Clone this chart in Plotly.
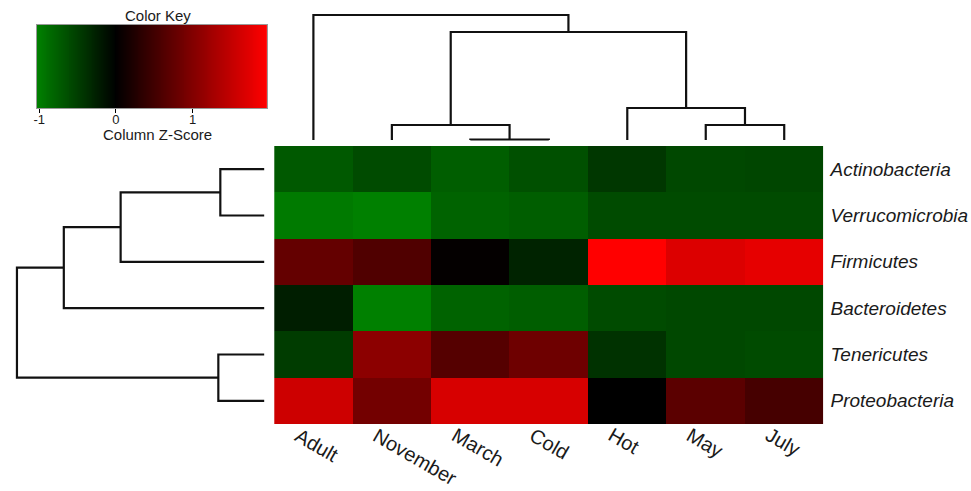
import plotly.graph_objects as go

W, H = 971, 491

# ---------------- data ----------------
samples = ["Adult", "November", "March", "Cold", "Hot", "May", "July"]
phyla = ["Actinobacteria", "Verrucomicrobia", "Firmicutes", "Bacteroidetes",
         "Tenericutes", "Proteobacteria"]

# column z-scores (rows = phyla, cols = samples)
z_actinobacteria = [-0.72, -0.60, -0.76, -0.64, -0.44, -0.58, -0.56]
z_verrucomicrobia = [-0.98, -1.03, -0.80, -0.76, -0.60, -0.60, -0.60]
z_firmicutes = [0.77, 0.62, 0.03, -0.28, 1.97, 1.70, 1.78]
z_bacteroidetes = [-0.24, -1.03, -0.80, -0.76, -0.60, -0.58, -0.58]
z_tenericutes = [-0.48, 1.08, 0.66, 0.85, -0.40, -0.58, -0.60]
z_proteobacteria = [1.58, 0.89, 1.66, 1.66, 0.00, 0.70, 0.54]

# dendrogram merges: (node_a, node_b, height); leaves are 0..n-1, new nodes numbered after
col_merges = [(2, 3, 0.5), (1, 7, 15), (5, 6, 15), (4, 9, 32), (8, 10, 108), (0, 11, 125)]
row_merges = [(0, 1, 44), (6, 2, 144), (7, 3, 201), (4, 5, 46), (8, 9, 248)]

key_ticks = [-1, 0, 1]
zmin, zmax = -1.03, 1.97
key_steps = 240

# ---------------- helpers ----------------
def dendro_lines(n_leaves, merges):
    pos = {i: float(i) for i in range(n_leaves)}
    hgt = {i: 0.0 for i in range(n_leaves)}
    P, Hs = [], []
    nid = n_leaves
    for a, b, h in merges:
        P += [pos[a], pos[a], pos[b], pos[b], None]
        Hs += [hgt[a], h, h, hgt[b], None]
        pos[nid] = (pos[a] + pos[b]) / 2
        hgt[nid] = h
        nid += 1
    return P, Hs

def px(x):
    return x / W

def py(y):
    return 1 - y / H

z = [z_actinobacteria, z_verrucomicrobia, z_firmicutes, z_bacteroidetes,
     z_tenericutes, z_proteobacteria]

b = (0 - zmin) / (zmax - zmin)
cscale = [[0, "rgb(0,128,0)"], [b, "rgb(0,0,0)"], [1, "rgb(255,0,0)"]]

fig = go.Figure()

fig.add_trace(go.Heatmap(
    z=z, x=list(range(len(samples))), y=list(range(len(phyla))),
    zmin=zmin, zmax=zmax, colorscale=cscale, showscale=False,
    hoverinfo="skip",
))

# colour key gradient
key_vals = [zmin + (zmax - zmin) * (k + 0.5) / key_steps for k in range(key_steps)]
fig.add_trace(go.Heatmap(
    z=[key_vals], x=key_vals, y=[0], xaxis="x4", yaxis="y4",
    zmin=zmin, zmax=zmax, colorscale=cscale, showscale=False,
    hoverinfo="skip",
))

# top (column) dendrogram
cx, ch = dendro_lines(len(samples), col_merges)
fig.add_trace(go.Scatter(x=cx, y=ch, mode="lines", xaxis="x2", yaxis="y2",
                         line=dict(color="#111", width=2.2), hoverinfo="skip",
                         showlegend=False))
# left (row) dendrogram
ry, rh = dendro_lines(len(phyla), row_merges)
fig.add_trace(go.Scatter(x=rh, y=ry, mode="lines", xaxis="x3", yaxis="y3",
                         line=dict(color="#111", width=2.2), hoverinfo="skip",
                         showlegend=False))

hm_x = [px(272), px(823)]
hm_y = [py(424), py(146)]

noax = dict(showgrid=False, zeroline=False, showticklabels=False, ticks="",
            showline=False)

fig.update_layout(
    width=W, height=H, margin=dict(l=0, r=0, t=0, b=0),
    paper_bgcolor="white", plot_bgcolor="white",
    font=dict(family="Liberation Sans, Arial", color="#000"),
    xaxis=dict(domain=hm_x, range=[-0.5, 6.5], anchor="y", **noax),
    yaxis=dict(domain=hm_y, range=[5.5, -0.5], anchor="x", side="right",
               showgrid=False, zeroline=False, ticks="", showline=False,
               tickvals=list(range(len(phyla))),
               ticktext=[f"<i>{p}</i>" for p in phyla],
               tickfont=dict(size=19, color="#1a1a1a"), ticklabelstandoff=6),
    xaxis2=dict(domain=hm_x, range=[-0.5, 6.5], anchor="y2", **noax),
    yaxis2=dict(domain=[py(142), py(13)], range=[-2, 127], anchor="x2", **noax),
    xaxis3=dict(domain=[px(12), px(264)], range=[250, -2], anchor="y3", **noax),
    yaxis3=dict(domain=hm_y, range=[5.5, -0.5], anchor="x3", **noax),
    xaxis4=dict(domain=[px(34), px(265)], range=[zmin, zmax], anchor="y4",
                showgrid=False, zeroline=False, showline=True, mirror=True,
                linecolor="#999", linewidth=1,
                ticks="outside", ticklen=4, tickwidth=1, tickcolor="#000",
                tickvals=key_ticks, ticktext=[str(t) for t in key_ticks],
                tickfont=dict(size=13, color="#1a1a1a"), ticklabelstandoff=-5),
    yaxis4=dict(domain=[py(108), py(25)], range=[-0.5, 0.5], anchor="x4",
                showgrid=False, zeroline=False, showline=True, mirror=True,
                linecolor="#999", linewidth=1, ticks="", showticklabels=False),
)

# column labels (rotated)
for i, s in enumerate(samples):
    fig.add_annotation(x=i, y=py(421), xref="x", yref="paper", text=s,
                       showarrow=False, textangle=30, xanchor="left",
                       yanchor="top", xshift=-25,
                       font=dict(size=20, color="#1a1a1a"))

# colour key titles
fig.add_annotation(x=px(155), y=py(15), xref="paper", yref="paper",
                   text="Color Key", showarrow=False, xanchor="center",
                   yanchor="middle", font=dict(size=15, color="#1a1a1a"))
fig.add_annotation(x=px(155), y=py(134), xref="paper", yref="paper",
                   text="Column Z-Score", showarrow=False, xanchor="center",
                   yanchor="middle", font=dict(size=15, color="#1a1a1a"))

fig.write_html("out.html", config={"displayModeBar": False},
               post_script="document.body.style.margin='0px';document.body.style.overflow='hidden';")
